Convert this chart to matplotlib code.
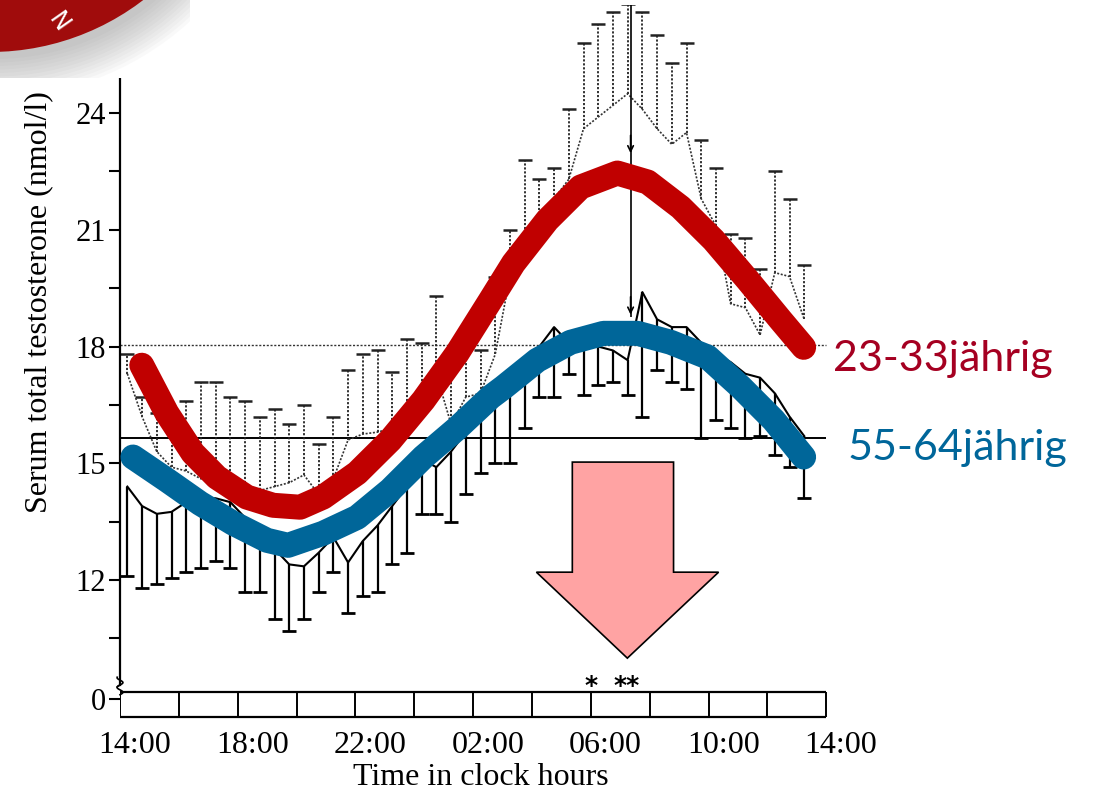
import numpy as np
import matplotlib
matplotlib.use("Agg")
import matplotlib.pyplot as plt
from matplotlib.patches import Polygon, Circle

# hours after 14:00, one sample every 30 min
hours = np.arange(0.25, 23.5, 0.5)

# young men (23-33 y): mean and upper SEM
young_mean = [17.3, 16.2, 15.3, 14.9, 14.8, 14.6, 14.7, 14.5, 14.4, 14.3, 14.4, 14.5,
              14.7, 14.2, 14.6, 15.6, 15.75, 15.8, 15.9, 16.3, 16.8, 17.3, 16.0, 16.7,
              16.8, 17.8, 19.8, 20.6, 21.3, 21.8, 22.3, 23.6, 23.9, 24.2, 24.5, 24.1,
              23.6, 23.2, 23.5, 21.8, 21.1, 19.1, 19.0, 18.3, 19.9, 19.8, 18.7]
young_err = [0.5, 0.5, 1.0, 1.3, 1.8, 2.5, 2.4, 2.2, 2.2, 1.9, 2.0, 1.5,
             1.8, 1.3, 1.6, 1.8, 2.05, 2.1, 1.45, 1.9, 1.3, 2.0, 1.6, 1.6,
             1.1, 2.0, 1.2, 2.2, 1.0, 0.8, 1.8, 2.2, 2.4, 2.4, 2.3, 2.5,
             2.4, 2.1, 2.3, 1.5, 1.5, 1.8, 1.8, 1.7, 2.6, 2.0, 1.4]

# older men (55-64 y): mean and lower SEM
old_mean = [14.4, 13.9, 13.7, 13.75, 14.0, 14.1, 14.1, 14.0, 13.6, 13.2, 12.8, 12.4,
            12.35, 12.7, 13.1, 12.45, 13.0, 13.4, 13.9, 14.4, 15.1, 14.9, 15.3, 15.8,
            16.3, 16.8, 17.3, 17.6, 18.0, 18.5, 18.1, 18.1, 18.0, 17.9, 17.65, 19.4,
            18.7, 18.5, 18.5, 18.1, 17.8, 17.6, 17.3, 17.2, 16.8, 16.2, 15.7]
old_err = [2.3, 2.1, 1.8, 1.7, 1.8, 1.8, 1.6, 1.7, 1.9, 1.5, 1.8, 1.7,
           1.35, 1.0, 0.9, 1.3, 1.4, 1.7, 1.5, 1.7, 1.4, 1.2, 1.8, 1.6,
           1.55, 1.8, 2.3, 1.7, 1.3, 1.8, 0.8, 1.35, 1.0, 0.8, 0.9, 3.2,
           1.3, 1.4, 1.6, 2.45, 1.7, 1.7, 1.65, 1.5, 1.6, 1.3, 1.6]

young_mesor = 18.05
old_mesor = 15.65
acrophase = 17.35
acro_young, acro_old = 22.9, 18.75

# hand-drawn overlay curves
red_t = [0.74, 1.59, 2.48, 3.29, 4.31, 5.2, 6.12, 6.9, 8.06, 9.18, 10.31, 11.46,
         12.59, 13.37, 14.52, 15.65, 16.9, 17.93, 19.05, 20.17, 21.33, 22.45, 23.23]
red_v = [17.52, 16.29, 15.26, 14.64, 14.13, 13.92, 13.87, 14.13, 14.75, 15.59, 16.62, 17.83,
         19.19, 20.14, 21.25, 22.1, 22.46, 22.23, 21.58, 20.74, 19.71, 18.68, 17.98]
blue_t = [0.44, 1.59, 2.72, 3.84, 4.99, 5.71, 6.9, 8.06, 9.18, 10.31, 11.46, 12.59,
          13.03, 14.18, 15.31, 16.43, 17.59, 18.71, 19.97, 21.09, 22.21, 23.23]
blue_v = [15.16, 14.57, 13.97, 13.46, 13.02, 12.89, 13.2, 13.61, 14.31, 15.16, 15.9, 16.7,
          16.95, 17.65, 18.11, 18.34, 18.34, 18.11, 17.73, 16.96, 16.11, 15.16]

yticks = [12, 15, 18, 21, 24]
xtick_labels = ["14:00", "18:00", "22:00", "02:00", "06:00", "10:00", "14:00"]
zero_pos = 8.95  # where "0" sits below the axis break

W, H = 1094, 793
fig = plt.figure(figsize=(W / 100, H / 100), dpi=100)
ax = fig.add_axes([120 / W, 1 - 720 / H, 721 / W, 715 / H])
ax.set_xlim(0, 24)
ax.set_ylim(8.40, 26.78)
for s in ["top", "right", "bottom"]:
    ax.spines[s].set_visible(False)
ax.spines["left"].set_linewidth(1.6)
ax.spines["left"].set_bounds(9.3, 26.78)

serif = "Liberation Serif"
ax.set_yticks(yticks + [zero_pos])
ax.set_yticklabels([str(v) for v in yticks] + ["0"], family=serif, fontsize=22)
ax.set_yticks([10.5, 13.5, 16.5, 19.5, 22.5], minor=True)
ax.tick_params(axis="y", which="both", direction="out", length=8, width=1.5, pad=2)
ax.set_xticks(np.arange(0, 25, 4) + 0.5)
ax.set_xticklabels(xtick_labels, family=serif, fontsize=23)
ax.tick_params(axis="x", length=0, pad=8)
ax.set_xlabel("Time in clock hours", family=serif, fontsize=23, labelpad=2)
ax.set_ylabel("Serum total testosterone (nmol/l)", family=serif, fontsize=23)
ax.yaxis.set_label_coords(-0.093, 0.585)

# axis break marks
for dy in (0.0, 0.2):
    yy = np.linspace(9.05, 9.3, 20) + dy
    ax.plot(0.1 * np.sin((yy - 9.05) / 0.25 * np.pi * 2), yy, color="black", lw=1.2,
            clip_on=False, zorder=3)

# time strip at the bottom
ax.hlines([8.47, 9.12], 0, 24, color="black", lw=1.6, zorder=2)
ax.vlines(np.arange(0, 25, 2), 8.47, 9.12, color="black", lw=1.4, zorder=2)

# mesor lines
ax.hlines(young_mesor, 0, 24, color="#333333", lw=1.0, linestyles=(0, (1.5, 1.2)), zorder=2)
ax.hlines(old_mesor, 0, 24, color="black", lw=1.4, zorder=2)

young_mean = np.array(young_mean)
old_mean = np.array(old_mean)
y_top = young_mean + np.array(young_err)
o_bot = old_mean - np.array(old_err)

ax.vlines(hours, young_mean, y_top, color="#222222", lw=1.3,
          linestyles=(0, (1.2, 1.0)), zorder=2)
ax.plot(hours, y_top, ls="none", marker="_", ms=10, mew=1.8, color="#222222", zorder=2)
ax.plot(hours, young_mean, color="#333333", lw=1.2, ls=(0, (1.2, 1.0)), zorder=2)

ax.vlines(hours, o_bot, old_mean, color="black", lw=1.6, zorder=2)
ax.plot(hours, o_bot, ls="none", marker="_", ms=10, mew=2.0, color="black", zorder=2)
ax.plot(hours, old_mean, color="black", lw=1.5, zorder=2)

# acrophase arrows
ax.vlines(acrophase, acro_old, 26.78, color="black", lw=1.2, zorder=2)
for yv in (acro_young, acro_old):
    ax.annotate("", xy=(acrophase, yv), xytext=(acrophase, yv + 0.6),
                arrowprops=dict(arrowstyle="->", color="black", lw=1.2), zorder=2)

ax.text(16.0, 9.27, "*", ha="center", va="center", fontsize=18, fontweight="bold",
        family="DejaVu Sans")
ax.text(17.2, 9.27, "**", ha="center", va="center", fontsize=18, fontweight="bold",
        family="DejaVu Sans")

# thick overlay curves
ax.plot(red_t, red_v, color="#C00000", lw=18, solid_capstyle="round",
        solid_joinstyle="round", zorder=5, clip_on=False)
ax.plot(blue_t, blue_v, color="#006699", lw=18, solid_capstyle="round",
        solid_joinstyle="round", zorder=5, clip_on=False)

# big pink arrow
arrow = Polygon([(15.37, 15.03), (18.81, 15.03), (18.81, 12.2), (20.34, 12.2),
                 (17.24, 9.99), (14.15, 12.2), (15.37, 12.2)], closed=True,
                facecolor="#FFA3A3", edgecolor="black", lw=1.2, zorder=6)
ax.add_patch(arrow)

fig.text(833 / W, 1 - 371 / H, "23-33jährig", color="#A50021", fontsize=31,
         family="Lato", va="baseline")
fig.text(848 / W, 1 - 460 / H, "55-64jährig", color="#00669A", fontsize=31,
         family="Lato", va="baseline")

# logo corner at the top left
bx = fig.add_axes([0, 1 - 78 / H, 190 / W, 78 / H], zorder=10)
bx.set_xlim(0, 190)
bx.set_ylim(78, 0)
bx.axis("off")
bx.add_patch(plt.Rectangle((0, 0), 190, 78, facecolor="white", edgecolor="none"))
for i in range(12):
    bx.add_patch(Circle((-6, -193), 252 + 3.5 * i, facecolor="#808080",
                        edgecolor="none", alpha=0.045))
bx.add_patch(Circle((-10, -200), 252, facecolor="#A00C0C", edgecolor="none"))
bx.text(58, 22, "N", color="white", fontsize=17, rotation=-55, ha="center",
        va="center", family="DejaVu Sans")

fig.savefig("out.png", dpi=100)
